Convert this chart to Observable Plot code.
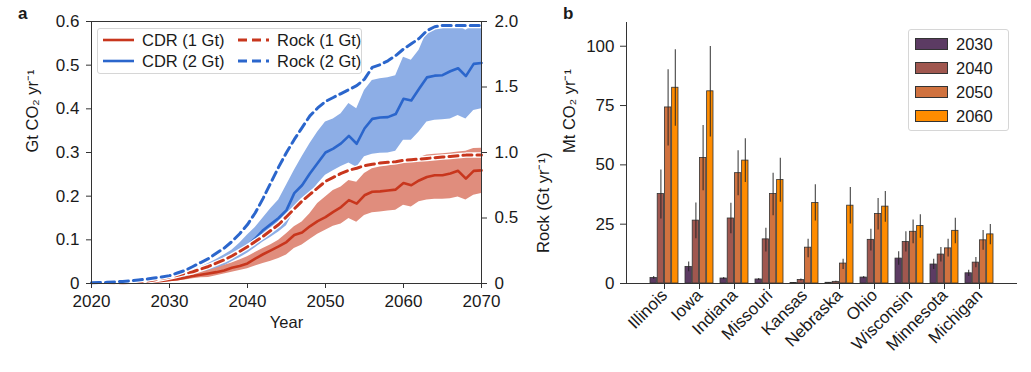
<!DOCTYPE html>
<html>
<head>
<meta charset="utf-8">
<script src="https://cdn.jsdelivr.net/npm/d3@7"></script>
<script src="https://cdn.jsdelivr.net/npm/@observablehq/plot@0.6"></script>
<style>
  html, body { margin: 0; padding: 0; background: #fff; }
  #root { position: relative; width: 1031px; height: 372px; overflow: hidden;
          font-family: "Liberation Sans", Arial, Helvetica, sans-serif; color: #1a1a1a; }
  .panel { position: absolute; top: 0; }
  .tag { position: absolute; font-weight: bold; font-size: 17px; }
  .legend { position: absolute; background: rgba(255,255,255,0.85); border: 1px solid #d6d6d6;
            border-radius: 3px; box-sizing: border-box; font-size: 16.5px; }
  .legend .item { position: absolute; white-space: nowrap; line-height: 1; }
  .legend svg { position: absolute; overflow: visible; }
</style>
</head>
<body>
<div id="root"></div>
<script>
// ---------------- Panel a data ----------------
const years = d3.range(2020, 2071);
const cdr1 = [0,0,0.001,0.001,0.001, 0.002,0.002,0.003,0.004,0.006, 0.008,0.010,0.013,0.017,0.020,
  0.023,0.026,0.030,0.036,0.040, 0.046,0.057,0.067,0.076,0.085, 0.095,0.111,0.117,0.131,0.143,
  0.152,0.164,0.175,0.191,0.183, 0.202,0.210,0.211,0.213,0.215, 0.230,0.225,0.236,0.244,0.248,
  0.248,0.252,0.258,0.240,0.258, 0.259];
const cdr1Lo = [0,0,0,0,0.001, 0.001,0.001,0.002,0.002,0.003, 0.004,0.006,0.008,0.011,0.013,
  0.014,0.018,0.022,0.026,0.030, 0.034,0.040,0.046,0.051,0.057, 0.065,0.080,0.088,0.101,0.113,
  0.122,0.131,0.136,0.149,0.140, 0.156,0.162,0.164,0.166,0.168, 0.179,0.175,0.187,0.191,0.193,
  0.193,0.194,0.198,0.191,0.202, 0.206];
const cdr1Hi = [0.001,0.001,0.002,0.002,0.003, 0.003,0.004,0.005,0.007,0.009, 0.011,0.014,0.018,0.022,0.026,
  0.030,0.035,0.041,0.047,0.054, 0.061,0.071,0.080,0.089,0.099, 0.114,0.130,0.141,0.160,0.183,
  0.198,0.213,0.221,0.236,0.232, 0.252,0.263,0.267,0.269,0.272, 0.278,0.282,0.288,0.294,0.296,
  0.297,0.299,0.301,0.303,0.309, 0.310];
const cdr2 = [0.002,0.002,0.002,0.003,0.003, 0.004,0.005,0.006,0.008,0.009, 0.011,0.015,0.020,0.026,0.032,
  0.038,0.045,0.053,0.066,0.077, 0.087,0.103,0.122,0.136,0.150, 0.168,0.207,0.225,0.252,0.276,
  0.300,0.309,0.321,0.338,0.320, 0.355,0.377,0.380,0.381,0.388, 0.423,0.419,0.446,0.472,0.476,
  0.477,0.486,0.493,0.475,0.503, 0.505];
const cdr2Lo = [0.001,0.001,0.001,0.002,0.002, 0.003,0.003,0.004,0.005,0.006, 0.008,0.011,0.015,0.019,0.023,
  0.027,0.033,0.040,0.050,0.059, 0.069,0.082,0.095,0.106,0.118, 0.132,0.166,0.181,0.205,0.228,
  0.248,0.258,0.268,0.276,0.266, 0.290,0.296,0.298,0.299,0.303, 0.328,0.328,0.347,0.370,0.374,
  0.375,0.377,0.385,0.377,0.396, 0.400];
const cdr2Hi = [0.003,0.003,0.003,0.004,0.005, 0.006,0.007,0.008,0.010,0.012, 0.014,0.019,0.025,0.031,0.038,
  0.046,0.055,0.065,0.076,0.092, 0.111,0.128,0.150,0.172,0.191, 0.225,0.259,0.290,0.320,0.347,
  0.370,0.377,0.389,0.412,0.400, 0.442,0.465,0.469,0.471,0.476, 0.518,0.511,0.534,0.576,0.583,
  0.590,0.590,0.590,0.580,0.592, 0.594];
// Rock, in Gt yr-1 (right axis)
const rock1 = [0,0.001,0.002,0.004,0.006, 0.008,0.012,0.018,0.027,0.038, 0.05,0.063,0.077,0.09,0.11,
  0.13,0.155,0.18,0.21,0.245, 0.28,0.32,0.36,0.405,0.45, 0.51,0.57,0.63,0.68,0.73,
  0.78,0.81,0.84,0.865,0.88, 0.90,0.91,0.92,0.925,0.93, 0.94,0.945,0.95,0.955,0.96,
  0.965,0.97,0.975,0.98,0.98, 0.98];
const rock2 = [0.005,0.007,0.009,0.012,0.016, 0.02,0.026,0.033,0.042,0.05, 0.06,0.08,0.1,0.13,0.16,
  0.19,0.23,0.27,0.32,0.38, 0.45,0.54,0.65,0.77,0.89, 1.00,1.10,1.19,1.28,1.34,
  1.39,1.42,1.45,1.48,1.51, 1.56,1.65,1.67,1.70,1.74, 1.79,1.83,1.87,1.93,1.96,
  1.97,1.97,1.97,1.97,1.97, 1.97];
const xTicksA = [2020, 2030, 2040, 2050, 2060, 2070];
const yTicksA = [0, 0.1, 0.2, 0.3, 0.4, 0.5, 0.6];
const rockTicks = [0, 0.5, 1.0, 1.5, 2.0];

// ---------------- Panel b data ----------------
const states = ["Illinois","Iowa","Indiana","Missouri","Kansas","Nebraska","Ohio","Wisconsin","Minnesota","Michigan"];
const yearsB = ["2030","2040","2050","2060"];
const v2030 = [2.3, 7.0, 2.1, 1.7, 0.2, 0.3, 2.5, 10.5, 8.0, 4.3];
const lo2030 = [1.8, 4.9, 1.6, 1.3, 0.1, 0.2, 2.0, 7.7, 5.9, 2.9];
const hi2030 = [2.9, 9.1, 2.5, 2.1, 0.3, 0.4, 3.0, 13.4, 10.2, 5.6];
const v2040 = [37.7, 26.5, 27.4, 18.6, 1.5, 0.7, 18.4, 17.5, 12.2, 8.8];
const lo2040 = [27.2, 18.9, 21.0, 13.3, 1.1, 0.5, 13.7, 13.3, 9.1, 6.6];
const hi2040 = [47.8, 33.9, 33.8, 23.3, 1.9, 0.9, 22.9, 21.8, 15.2, 11.0];
const v2050 = [74.2, 52.9, 46.5, 37.7, 15.1, 8.4, 29.3, 21.8, 14.8, 18.2];
const lo2050 = [58.0, 39.1, 37.0, 28.6, 10.8, 5.9, 22.6, 16.8, 11.2, 14.0];
const hi2050 = [90.1, 66.6, 55.9, 46.5, 18.7, 10.2, 35.8, 26.8, 18.6, 22.3];
const v2060 = [82.5, 81.0, 51.8, 43.6, 33.9, 32.8, 32.4, 24.2, 22.2, 20.7];
const lo2060 = [66.3, 61.7, 42.6, 34.2, 26.3, 25.1, 25.8, 19.1, 16.8, 16.3];
const hi2060 = [98.5, 99.9, 61.0, 52.8, 41.6, 40.5, 38.8, 29.0, 27.5, 24.9];
const yTicksB = [0, 25, 50, 75, 100];

// ---------------- styles ----------------
const RED = "#c8361d", BLUE = "#2b66cc";
const RED_BAND = "#e08d7d", BLUE_BAND = "#8daee6";
const BAR_COLORS = ["#5c3b63", "#a0574f", "#d0723f", "#ff8c00"];
const FONT = "'Liberation Sans', Arial, Helvetica, sans-serif";
const FS = 16.5;      // axis titles
const FS_TICK = 17;   // tick labels
const AXIS = "#333";

const root = document.getElementById("root");

// ---------------- Panel a ----------------
const ROCK_TO_Y = 0.6 / 2.0;
const tableA = years.map((year, i) => ({
  year, cdr1: cdr1[i], cdr1Lo: cdr1Lo[i], cdr1Hi: cdr1Hi[i],
  cdr2: cdr2[i], cdr2Lo: cdr2Lo[i], cdr2Hi: cdr2Hi[i],
  rock1: rock1[i] * ROCK_TO_Y, rock2: rock2[i] * ROCK_TO_Y
}));
const fmt1 = d => (Math.abs(d) < 1e-9 ? "0" : d.toFixed(1));

const plotA = Plot.plot({
  width: 560, height: 372,
  marginLeft: 91, marginRight: 79, marginTop: 21, marginBottom: 89,
  style: {background: "transparent", fontFamily: FONT, fontSize: FS + "px", color: "#1a1a1a", overflow: "visible"},
  x: {domain: [2020, 2070]},
  y: {domain: [0, 0.6]},
  marks: [
    Plot.areaY(tableA, {x: "year", y1: "cdr2Lo", y2: "cdr2Hi", fill: BLUE_BAND}),
    Plot.areaY(tableA, {x: "year", y1: "cdr1Lo", y2: "cdr1Hi", fill: RED_BAND}),
    Plot.lineY(tableA, {x: "year", y: "cdr2", stroke: BLUE, strokeWidth: 2.6}),
    Plot.lineY(tableA, {x: "year", y: "cdr1", stroke: RED, strokeWidth: 2.6}),
    Plot.lineY(tableA, {x: "year", y: "rock1", stroke: "white", strokeWidth: 5.5}),
    Plot.lineY(tableA, {x: "year", y: "rock1", stroke: RED, strokeWidth: 3, strokeDasharray: "9,5"}),
    Plot.lineY(tableA, {x: "year", y: "rock2", stroke: "white", strokeWidth: 5.5}),
    Plot.lineY(tableA, {x: "year", y: "rock2", stroke: BLUE, strokeWidth: 3, strokeDasharray: "9,5"}),
    Plot.frame({stroke: AXIS, strokeWidth: 1}),
    Plot.axisX({ticks: xTicksA, tickFormat: "d", tickSize: 5, tickPadding: 6, label: null, stroke: AXIS, fontSize: FS_TICK}),
    Plot.axisY({ticks: yTicksA, tickFormat: fmt1, tickSize: 5, tickPadding: 7, label: null, stroke: AXIS, fontSize: FS_TICK}),
    Plot.axisY(rockTicks.map(r => r * ROCK_TO_Y), {anchor: "right", tickFormat: d => fmt1(d / ROCK_TO_Y), tickSize: 5, tickPadding: 8, label: null, stroke: AXIS, fontSize: FS_TICK}),
    Plot.text(["Year"], {frameAnchor: "bottom", dy: 44, fontSize: FS}),
    Plot.text(["Gt CO₂ yr⁻¹"], {frameAnchor: "left", rotate: -90, dx: -59, fontSize: FS}),
    Plot.text(["Rock (Gt yr⁻¹)"], {frameAnchor: "right", rotate: -90, dx: 62, fontSize: FS})
  ]
});
plotA.classList.add("panel");
plotA.style.left = "0px";
root.appendChild(plotA);

// ---------------- Panel b ----------------
const W_B = 491, ML_B = 86, MR_B = 14;
const vals = {"2030": [v2030, lo2030, hi2030], "2040": [v2040, lo2040, hi2040],
              "2050": [v2050, lo2050, hi2050], "2060": [v2060, lo2060, hi2060]};
const rowsB = yearsB.flatMap(year => states.map((state, i) => ({
  state, year, value: vals[year][0][i], lo: vals[year][1][i], hi: vals[year][2][i]
})));
const xOptsB = {type: "band", domain: states, paddingInner: 0.19, paddingOuter: 0.585, align: 0.5};
const bw = Plot.scale({x: {...xOptsB, range: [ML_B, W_B - MR_B]}}).bandwidth;
const w = bw / yearsB.length;

const barMarks = yearsB.flatMap((year, k) => {
  const data = rowsB.filter(d => d.year === year);
  return [
    Plot.barY(data, {x: "state", y: "value", fill: "year", stroke: "#333", strokeWidth: 0.8,
                     insetLeft: k * w, insetRight: (yearsB.length - 1 - k) * w}),
    Plot.ruleX(data, {x: "state", y1: "lo", y2: "hi", dx: (k - (yearsB.length - 1) / 2) * w,
                      stroke: "#222", strokeOpacity: 0.85, strokeWidth: 1.1})
  ];
});

const plotB = Plot.plot({
  width: W_B, height: 372,
  marginLeft: ML_B, marginRight: MR_B, marginTop: 22, marginBottom: 89,
  style: {background: "transparent", fontFamily: FONT, fontSize: FS + "px", color: "#1a1a1a", overflow: "visible"},
  x: {...xOptsB},
  y: {domain: [0, 110]},
  color: {domain: yearsB, range: BAR_COLORS},
  marks: [
    ...barMarks,
    Plot.ruleY([0], {stroke: AXIS}),
    Plot.frame({anchor: "left", stroke: AXIS}),
    Plot.axisX({tickRotate: -45, tickSize: 6, tickPadding: 3, label: null, stroke: AXIS, fontSize: FS_TICK}),
    Plot.axisY({ticks: yTicksB, tickSize: 6, tickPadding: 6, label: null, stroke: AXIS, fontSize: FS_TICK}),
    Plot.text(["Mt CO₂ yr⁻¹"], {frameAnchor: "left", rotate: -90, dx: -57, fontSize: FS})
  ]
});
plotB.classList.add("panel");
plotB.style.left = "540px";
root.appendChild(plotB);

// ---------------- tags ----------------
function tag(txt, x, y) {
  const d = document.createElement("div");
  d.className = "tag"; d.textContent = txt;
  d.style.left = x + "px"; d.style.top = y + "px";
  root.appendChild(d);
}
tag("a", 18, 4);
tag("b", 563, 4);

// ---------------- legend a ----------------
const legA = document.createElement("div");
legA.className = "legend";
Object.assign(legA.style, {left: "97px", top: "28px", width: "265px", height: "46px"});
const itemsA = [
  {label: "CDR (1 Gt)", color: RED, dash: null, col: 0, row: 0},
  {label: "CDR (2 Gt)", color: BLUE, dash: null, col: 0, row: 1},
  {label: "Rock (1 Gt)", color: RED, dash: "9,5", col: 1, row: 0},
  {label: "Rock (2 Gt)", color: BLUE, dash: "9,5", col: 1, row: 1}
];
itemsA.forEach(it => {
  const x0 = it.col === 0 ? 5 : 140;
  const yc = it.row === 0 ? 11 : 32;
  const s = document.createElementNS("http://www.w3.org/2000/svg", "svg");
  s.setAttribute("width", 31); s.setAttribute("height", 6);
  s.style.left = x0 + "px"; s.style.top = (yc - 3) + "px";
  const l = document.createElementNS("http://www.w3.org/2000/svg", "line");
  l.setAttribute("x1", 0); l.setAttribute("x2", 31); l.setAttribute("y1", 3); l.setAttribute("y2", 3);
  l.setAttribute("stroke", it.color); l.setAttribute("stroke-width", it.dash ? 3 : 2.6);
  if (it.dash) l.setAttribute("stroke-dasharray", it.dash);
  s.appendChild(l); legA.appendChild(s);
  const t = document.createElement("div");
  t.className = "item"; t.textContent = it.label;
  t.style.left = (x0 + 39) + "px"; t.style.top = (yc - 8) + "px";
  legA.appendChild(t);
});
root.appendChild(legA);

// ---------------- legend b ----------------
const legB = document.createElement("div");
legB.className = "legend";
Object.assign(legB.style, {left: "908px", top: "29px", width: "101px", height: "102px"});
yearsB.forEach((year, k) => {
  const yc = 14 + k * 24;
  const sw = document.createElement("div");
  Object.assign(sw.style, {position: "absolute", left: "6px", top: (yc - 6) + "px", width: "33px", height: "12px",
    background: BAR_COLORS[k], border: "1px solid #333", boxSizing: "border-box"});
  legB.appendChild(sw);
  const t = document.createElement("div");
  t.className = "item"; t.textContent = year;
  t.style.left = "47px"; t.style.top = (yc - 8) + "px";
  legB.appendChild(t);
});
root.appendChild(legB);
</script>
</body>
</html>
